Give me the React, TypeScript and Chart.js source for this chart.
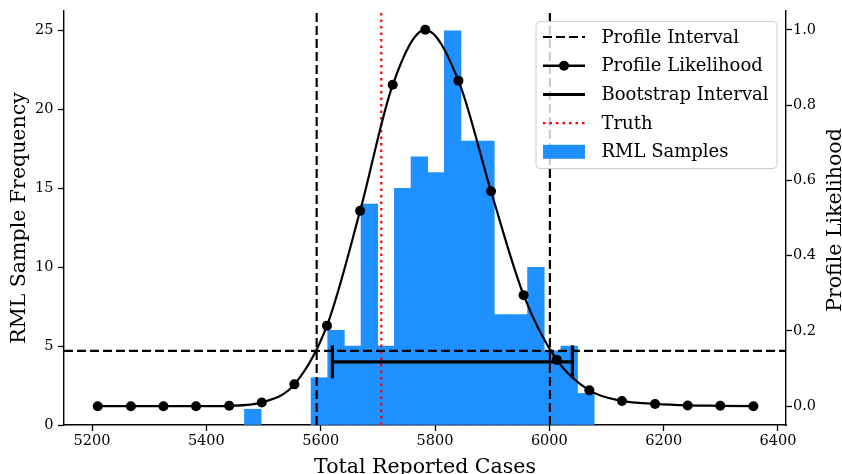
import React, { useEffect, useRef } from 'react';
import { Chart, registerables } from 'chart.js';

Chart.register(...registerables);

// ---- data ----
const binCenters = [
  5481.3, 5510.4, 5539.6, 5568.7, 5597.8, 5626.9, 5656.1, 5685.2, 5714.3, 5743.5,
  5772.6, 5801.7, 5830.9, 5860.0, 5889.1, 5918.3, 5947.4, 5976.5, 6005.6, 6034.8, 6063.9,
];
const binCounts = [1, 0, 0, 0, 3, 6, 5, 14, 5, 15, 17, 16, 25, 18, 18, 7, 7, 10, 4.7, 5, 2];

const profileX = [
  5210, 5268, 5325, 5382, 5440, 5497, 5554, 5611, 5669, 5726, 5783,
  5841, 5898, 5955, 6013, 6070, 6127, 6185, 6242, 6299, 6357,
];
const profileY = [
  0.0, 0.0, 0.0, 0.0, 0.001, 0.01, 0.058, 0.214, 0.519, 0.854, 1.0,
  0.865, 0.571, 0.295, 0.123, 0.042, 0.014, 0.006, 0.002, 0.001, 0.0,
];

const profileInterval = [5593, 6001];
const profileThreshold = 0.1467;
const bootstrapInterval = [5620.5, 6040.4];
const bootstrapLevel = 4;
const truthValue = 5706;

const xTicks = [5200, 5400, 5600, 5800, 6000, 6200, 6400];
const yLeftTicks = [0, 5, 10, 15, 20, 25];
const yRightTicks = [0, 0.2, 0.4, 0.6, 0.8, 1.0];

const xRange = [5151, 6414];
const yLeftRange = [0, 26.25];
const yRightRange = [-0.05, 1.05];

const legendLabels = ['Profile Interval', 'Profile Likelihood', 'Bootstrap Interval', 'Truth', 'RML Samples'];

const SERIF = "'DejaVu Serif', serif";
const BLUE = '#1E90FF';

const overlayPlugin = {
  id: 'overlay',
  afterDraw(chart: any) {
    const ctx: CanvasRenderingContext2D = chart.ctx;
    ctx.save();
    // right axis title (reads bottom to top)
    ctx.fillStyle = '#000';
    ctx.font = `20.5px ${SERIF}`;
    ctx.textAlign = 'center';
    ctx.textBaseline = 'alphabetic';
    ctx.translate(841, (chart.chartArea.top + chart.chartArea.bottom) / 2 + 2);
    ctx.rotate(-Math.PI / 2);
    ctx.fillText('Profile Likelihood', 0, 0);
    ctx.restore();

    // legend
    ctx.save();
    const bx = 536, by = 21.5, bw = 241, bh = 147, r = 4;
    ctx.beginPath();
    ctx.moveTo(bx + r, by);
    ctx.lineTo(bx + bw - r, by);
    ctx.arcTo(bx + bw, by, bx + bw, by + r, r);
    ctx.lineTo(bx + bw, by + bh - r);
    ctx.arcTo(bx + bw, by + bh, bx + bw - r, by + bh, r);
    ctx.lineTo(bx + r, by + bh);
    ctx.arcTo(bx, by + bh, bx, by + bh - r, r);
    ctx.lineTo(bx, by + r);
    ctx.arcTo(bx, by, bx + r, by, r);
    ctx.closePath();
    ctx.fillStyle = 'rgba(255,255,255,0.8)';
    ctx.fill();
    ctx.strokeStyle = '#cccccc';
    ctx.lineWidth = 1;
    ctx.stroke();

    const hx0 = 543, hx1 = 585, tx = 601.5;
    const rowY = (i: number) => 37 + i * 28.7;
    ctx.lineCap = 'butt';
    // Profile Interval
    ctx.strokeStyle = '#000';
    ctx.lineWidth = 2.2;
    ctx.setLineDash([9, 4]);
    ctx.beginPath(); ctx.moveTo(hx0, rowY(0)); ctx.lineTo(hx1, rowY(0)); ctx.stroke();
    ctx.setLineDash([]);
    // Profile Likelihood
    ctx.lineWidth = 2.5;
    ctx.beginPath(); ctx.moveTo(hx0, rowY(1)); ctx.lineTo(hx1, rowY(1)); ctx.stroke();
    ctx.fillStyle = '#000';
    ctx.beginPath(); ctx.arc((hx0 + hx1) / 2, rowY(1), 5, 0, Math.PI * 2); ctx.fill();
    // Bootstrap Interval
    ctx.lineWidth = 3;
    ctx.beginPath(); ctx.moveTo(hx0, rowY(2)); ctx.lineTo(hx1, rowY(2)); ctx.stroke();
    // Truth
    ctx.strokeStyle = '#ff0000';
    ctx.lineWidth = 2.2;
    ctx.setLineDash([2.5, 4]);
    ctx.beginPath(); ctx.moveTo(hx0, rowY(3)); ctx.lineTo(hx1, rowY(3)); ctx.stroke();
    ctx.setLineDash([]);
    // RML Samples
    ctx.fillStyle = BLUE;
    ctx.fillRect(hx0, rowY(4) - 7, hx1 - hx0, 14);

    ctx.fillStyle = '#000';
    ctx.font = `18px ${SERIF}`;
    ctx.textAlign = 'left';
    ctx.textBaseline = 'middle';
    legendLabels.forEach((t, i) => ctx.fillText(t, tx, rowY(i) + 1));
    ctx.restore();
  },
};

const tickFont = { family: SERIF, size: 14.5 };
const axisGrid = {
  display: true,
  drawOnChartArea: false,
  drawTicks: true,
  offset: false,
  tickLength: 6,
  tickWidth: 1.3,
  tickColor: '#000',
};
const axisBorder = { display: true, color: '#000', width: 1.4 };

const noVerticalPadding = (s: any) => {
  s.paddingTop = 0;
  s.paddingBottom = 0;
};

export default function App() {
  const ref = useRef<HTMLCanvasElement | null>(null);

  useEffect(() => {
    if (!ref.current) return;
    const vline = (x: number) => [
      { x, y: yRightRange[0] },
      { x, y: yRightRange[1] },
    ];
    const chart = new Chart(ref.current, {
      type: 'line',
      data: {
        datasets: [
          {
            type: 'line',
            label: 'Profile Likelihood',
            data: profileX.map((x, i) => ({ x, y: profileY[i] })),
            yAxisID: 'y2',
            borderColor: '#000',
            borderWidth: 2.2,
            pointRadius: 5,
            pointBackgroundColor: '#000',
            pointBorderColor: '#000',
            pointBorderWidth: 0,
            cubicInterpolationMode: 'monotone',
            order: 1,
          },
          {
            type: 'line',
            label: 'Bootstrap Interval',
            data: bootstrapInterval.map((x) => ({ x, y: bootstrapLevel })),
            yAxisID: 'y',
            borderColor: '#000',
            borderWidth: 3.2,
            pointStyle: 'line',
            pointRotation: 90,
            pointRadius: 16.6,
            pointBorderWidth: 3.2,
            pointBorderColor: '#000',
            order: 2,
          },
          ...profileInterval.map((v) => ({
            type: 'line' as const,
            label: 'Profile Interval',
            data: vline(v),
            yAxisID: 'y2',
            borderColor: '#000',
            borderWidth: 2.2,
            borderDash: [9, 4],
            pointRadius: 0,
            order: 3,
          })),
          {
            type: 'line',
            label: 'Profile Interval',
            data: xRange.map((x) => ({ x, y: profileThreshold })),
            yAxisID: 'y2',
            borderColor: '#000',
            borderWidth: 2.2,
            borderDash: [9, 4],
            pointRadius: 0,
            order: 3,
          },
          {
            type: 'line',
            label: 'Truth',
            data: vline(truthValue),
            yAxisID: 'y2',
            borderColor: '#ff0000',
            borderWidth: 2.2,
            borderDash: [2.5, 4],
            pointRadius: 0,
            order: 4,
          },
          {
            type: 'bar',
            label: 'RML Samples',
            data: binCenters.map((x, i) => ({ x, y: binCounts[i] })),
            yAxisID: 'y',
            backgroundColor: BLUE,
            borderWidth: 0,
            barPercentage: 1,
            categoryPercentage: 1,
            inflateAmount: (c: any) => (c.raw && c.raw.y === 0 ? 0 : 0.33),
            order: 10,
          },
        ] as any,
      },
      options: {
        responsive: false,
        animation: false,
        devicePixelRatio: 1,
        events: [],
        layout: { autoPadding: false, padding: { top: 11, left: 0, right: 0, bottom: 0 } },
        plugins: { legend: { display: false }, tooltip: { enabled: false } },
        scales: {
          x: {
            type: 'linear',
            min: xRange[0],
            max: xRange[1],
            offset: false,
            afterBuildTicks: (s: any) => {
              s.ticks = xTicks.map((v) => ({ value: v }));
            },
            afterFit: (s: any) => {
              s.height = 55;
              s.paddingLeft = 0;
              s.paddingRight = 0;
            },
            grid: axisGrid,
            border: axisBorder,
            ticks: {
              color: '#000',
              font: tickFont,
              padding: 2,
              maxRotation: 0,
              autoSkip: false,
              callback: (v: any) => String(v),
            },
            title: {
              display: true,
              text: 'Total Reported Cases',
              color: '#000',
              font: { family: SERIF, size: 20.5, lineHeight: 1.2 },
              padding: { top: 0, bottom: 0 },
            },
          },
          y: {
            type: 'linear',
            position: 'left',
            min: yLeftRange[0],
            max: yLeftRange[1],
            afterBuildTicks: (s: any) => {
              s.ticks = yLeftTicks.map((v) => ({ value: v }));
            },
            afterFit: (s: any) => {
              s.width = 64;
              noVerticalPadding(s);
            },
            grid: axisGrid,
            border: axisBorder,
            ticks: {
              color: '#000',
              font: tickFont,
              padding: 4.5,
              callback: (v: any) => String(v),
            },
            title: {
              display: true,
              text: 'RML Sample Frequency',
              color: '#000',
              font: { family: SERIF, size: 20.5, lineHeight: 1.2 },
              padding: { top: 7.7, bottom: 0 },
            },
          },
          y2: {
            type: 'linear',
            position: 'right',
            min: yRightRange[0],
            max: yRightRange[1],
            afterBuildTicks: (s: any) => {
              s.ticks = yRightTicks.map((v) => ({ value: v }));
            },
            afterFit: (s: any) => {
              s.width = 56;
              noVerticalPadding(s);
            },
            grid: axisGrid,
            border: axisBorder,
            ticks: {
              color: '#000',
              font: tickFont,
              padding: 1,
              callback: (v: any) => Number(v).toFixed(1),
            },
            title: { display: false },
          },
        },
      } as any,
      plugins: [overlayPlugin],
    });
    return () => chart.destroy();
  }, []);

  return (
    <div
      style={{
        position: 'fixed',
        left: 0,
        top: 0,
        width: 842,
        height: 474,
        overflow: 'hidden',
        background: '#fff',
      }}
    >
      <canvas ref={ref} width={842} height={480} style={{ display: 'block', width: 842, height: 480 }} />
    </div>
  );
}
